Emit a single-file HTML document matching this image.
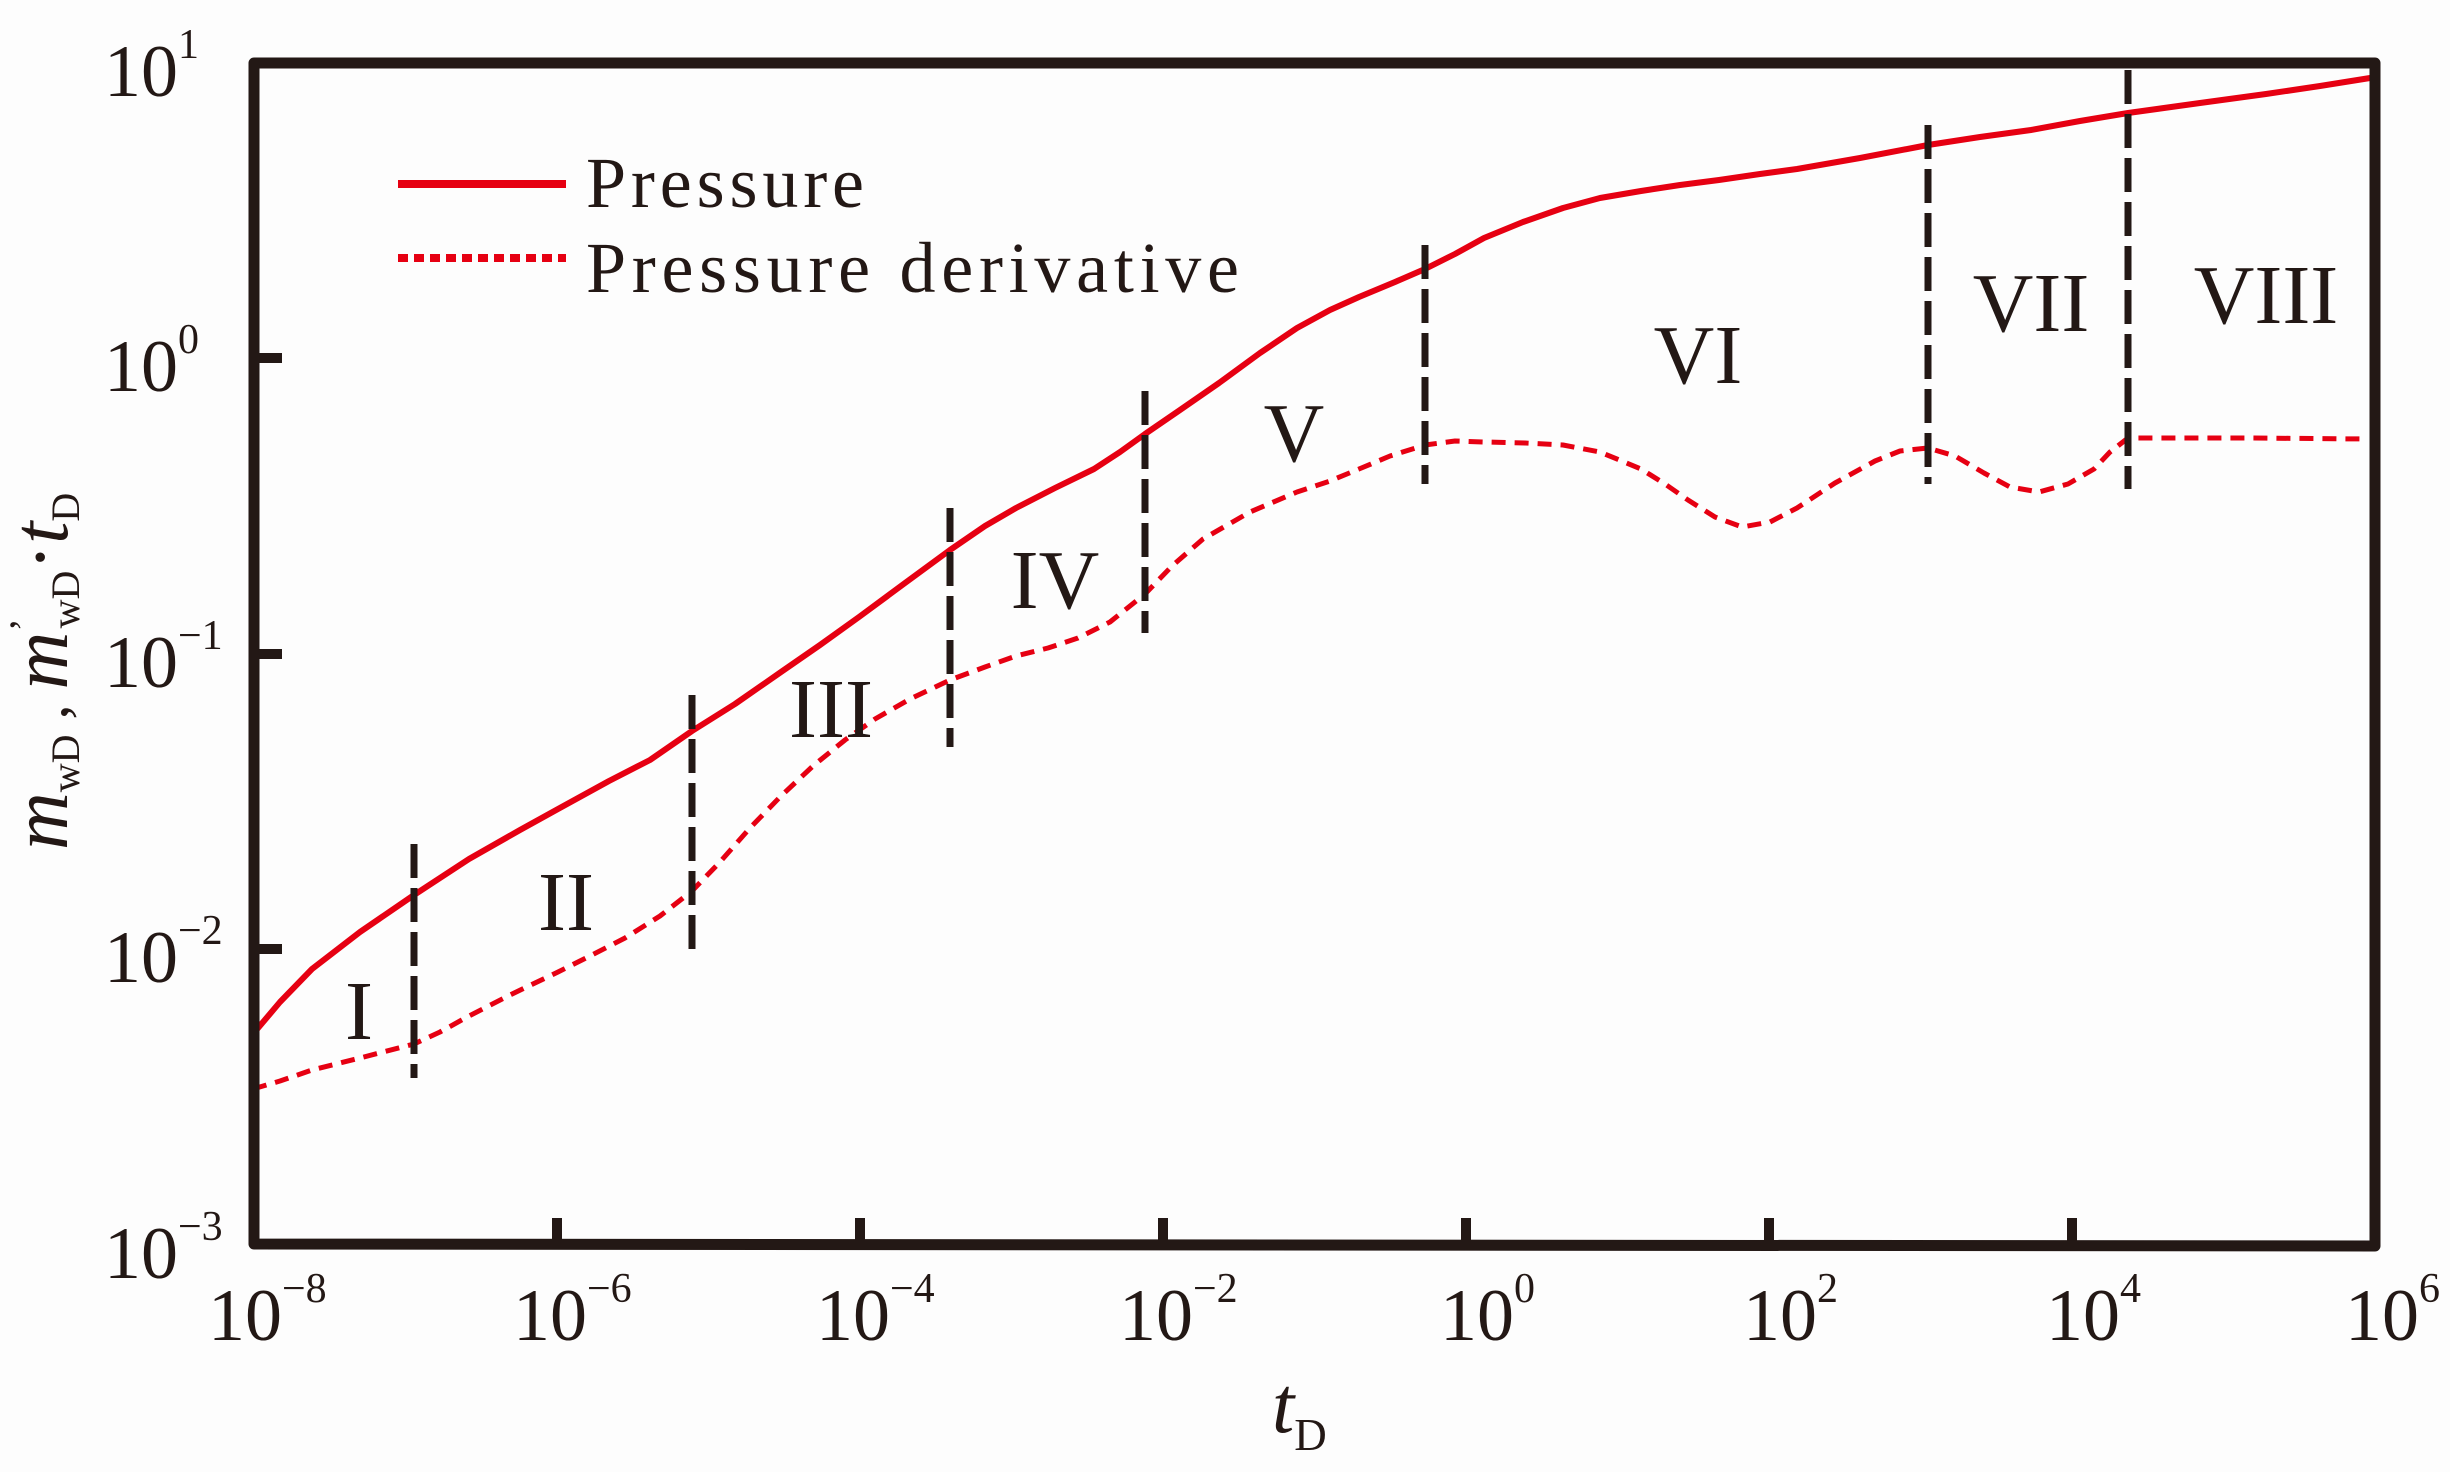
<!DOCTYPE html>
<html><head><meta charset="utf-8"><style>
html,body{margin:0;padding:0;background:#fdfdfd;}
svg{display:block;}
text{font-family:"Liberation Serif",serif;fill:#231815;}
</style></head><body>
<svg width="2450" height="1472" viewBox="0 0 2450 1472" xmlns="http://www.w3.org/2000/svg">
<rect width="2450" height="1472" fill="#fdfdfd"/>
<polyline fill="none" stroke="#e60012" stroke-width="6" stroke-linejoin="round" points="253,1034 280,1002 312,969 360,932 414,895 469,859 520,830 558,809 609,781 650,760 692,731 735,704 781,672 820,645 859,617 905,583 950,550 985,526 1016,508 1055,488 1094,469 1120,452 1145,434 1180,410 1219,383 1260,353 1297,328 1330,310 1359,297 1395,282 1425,269 1455,254 1484,238 1523,222 1563,208 1600,198 1641,191 1680,185 1719,180 1760,174 1797,169 1860,158 1928,145 1980,137 2031,130 2080,121 2128,113 2200,103 2266,94 2320,86 2370,78"/>
<polyline fill="none" stroke="#e60012" stroke-width="5" stroke-dasharray="14,9" stroke-linejoin="round" points="253,1089 280,1081 312,1070 360,1058 414,1044 440,1032 469,1016 510,995 558,972 590,956 625,938 660,916 692,891 720,862 750,828 780,797 813,766 845,740 875,719 910,699 950,680 985,667 1016,656 1048,648 1078,638 1110,622 1145,594 1172,566 1203,539 1250,512 1297,492 1330,481 1359,469 1390,456 1425,445 1455,441 1484,442 1525,443 1563,445 1600,452 1641,469 1665,484 1688,500 1715,517 1742,527 1770,522 1797,508 1835,483 1875,461 1900,451 1928,448 1955,456 1984,473 2010,487 2039,492 2068,484 2094,469 2110,452 2128,438 2250,438 2367,439"/>
<g stroke="#231815" stroke-width="7" stroke-dasharray="34,10">
<line x1="414" y1="844" x2="414" y2="1078"/>
<line x1="692" y1="695" x2="692" y2="950"/>
<line x1="950" y1="508" x2="950" y2="747"/>
<line x1="1145" y1="391" x2="1145" y2="633"/>
<line x1="1425" y1="245" x2="1425" y2="484"/>
<line x1="1928" y1="125" x2="1928" y2="484"/>
<line x1="2128" y1="70" x2="2128" y2="489"/>
</g>
<path d="M254,63 L2375,63 L2375,1246 L254,1244 Z" fill="none" stroke="#231815" stroke-width="11" stroke-linejoin="round"/>
<g stroke="#231815" stroke-width="10">
<line x1="557" y1="1245" x2="557" y2="1218"/>
<line x1="860" y1="1245" x2="860" y2="1218"/>
<line x1="1163" y1="1245" x2="1163" y2="1218"/>
<line x1="1466" y1="1245" x2="1466" y2="1218"/>
<line x1="1769" y1="1245" x2="1769" y2="1218"/>
<line x1="2072" y1="1245" x2="2072" y2="1218"/>
<line x1="254" y1="358" x2="282" y2="358"/>
<line x1="254" y1="654" x2="282" y2="654"/>
<line x1="254" y1="949" x2="282" y2="949"/>
</g>
<g font-size="74">
<text x="208" y="1340">10<tspan font-size="42" dy="-38">−8</tspan></text>
<text x="513" y="1340">10<tspan font-size="42" dy="-38">−6</tspan></text>
<text x="816" y="1340">10<tspan font-size="42" dy="-38">−4</tspan></text>
<text x="1119" y="1340">10<tspan font-size="42" dy="-38">−2</tspan></text>
<text x="1440" y="1340">10<tspan font-size="42" dy="-38">0</tspan></text>
<text x="1743" y="1340">10<tspan font-size="42" dy="-38">2</tspan></text>
<text x="2046" y="1340">10<tspan font-size="42" dy="-38">4</tspan></text>
<text x="2345" y="1340">10<tspan font-size="42" dy="-38">6</tspan></text>
</g>
<g font-size="74">
<text x="104" y="96">10<tspan font-size="42" dy="-38">1</tspan></text>
<text x="104" y="391">10<tspan font-size="42" dy="-38">0</tspan></text>
<text x="104" y="687">10<tspan font-size="42" dy="-38">−1</tspan></text>
<text x="104" y="982">10<tspan font-size="42" dy="-38">−2</tspan></text>
<text x="104" y="1278">10<tspan font-size="42" dy="-38">−3</tspan></text>
</g>
<text x="1272" y="1432" font-size="80" font-style="italic">t<tspan font-style="normal" font-size="45" dy="18">D</tspan></text>
<text transform="translate(67,850) rotate(-90)" font-size="80"><tspan font-style="italic">m</tspan><tspan font-size="40" dy="12">wD</tspan><tspan dy="-12" font-size="60"> , </tspan><tspan font-style="italic">m</tspan><tspan font-size="40" dy="-30">’</tspan><tspan font-size="40" dx="-10" dy="42">wD</tspan><tspan dy="-12">·</tspan><tspan font-style="italic">t</tspan><tspan font-size="40" dy="12">D</tspan></text>
<line x1="398" y1="184" x2="566" y2="184" stroke="#e60012" stroke-width="8"/>
<line x1="398" y1="258" x2="566" y2="258" stroke="#e60012" stroke-width="8" stroke-dasharray="10,6"/>
<text x="586" y="207" font-size="72" textLength="278" lengthAdjust="spacing">Pressure</text>
<text x="586" y="292" font-size="72" textLength="653" lengthAdjust="spacing">Pressure  derivative</text>
<g font-size="84" text-anchor="middle">
<text x="359" y="1039">I</text>
<text x="566" y="930">II</text>
<text x="831" y="737">III</text>
<text x="1055" y="608">IV</text>
<text x="1294" y="461">V</text>
<text x="1698" y="383">VI</text>
<text x="2031" y="331">VII</text>
<text x="2266" y="323">VIII</text>
</g>
</svg>
</body></html>
